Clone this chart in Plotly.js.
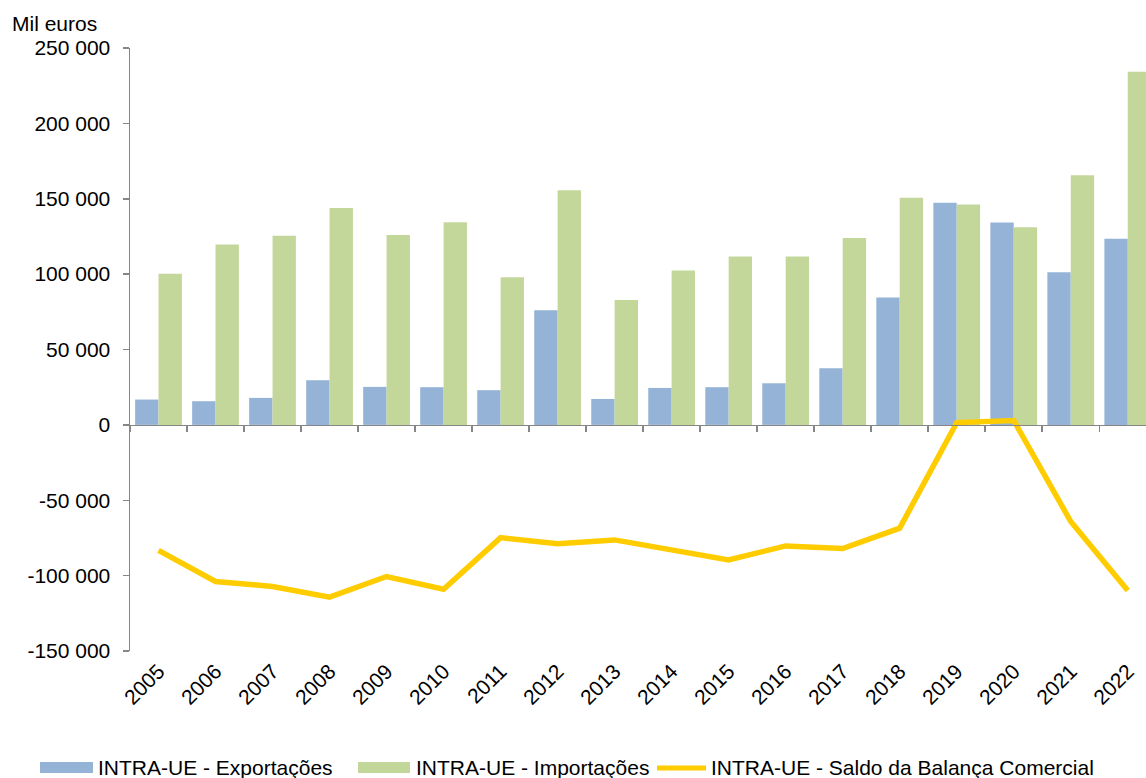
<!DOCTYPE html>
<html>
<head>
<meta charset="utf-8">
<script src="https://cdn.plot.ly/plotly-3.0.1.min.js"></script>
<style>html,body{margin:0;padding:0;background:#fff;}</style>
</head>
<body>
<div id="chart" style="width:1146px;height:778px;"></div>
<script>
const years = ["2005","2006","2007","2008","2009","2010","2011","2012","2013","2014","2015","2016","2017","2018","2019","2020","2021","2022"];
const exportacoes = [16800,15700,17900,29600,25200,25000,23000,76100,17200,24500,25000,27600,37600,84500,147300,134200,101300,123400];
const importacoes = [100200,119600,125400,143900,126000,134400,98000,155700,82900,102400,111700,111700,124000,150600,146200,131100,165600,234200];
const saldo = [-83300,-103900,-107200,-114300,-100600,-109000,-74800,-78900,-76300,-82900,-89600,-80300,-82000,-68500,1500,2900,-64100,-109900];
const seriesNames = ["INTRA-UE - Exportações","INTRA-UE - Importações","INTRA-UE - Saldo da Balança Comercial"];
const yTickVals = [-150000,-100000,-50000,0,50000,100000,150000,200000,250000];
const yTickText = ["-150 000","-100 000","-50 000","0","50 000","100 000","150 000","200 000","250 000"];
const yTitle = "Mil euros";

const font = "Liberation Sans, Arial, sans-serif";
const fs = 21;
const axisColor = "#868686";
const colors = ["#95B3D7","#C4D79B","#FFCC00"];

const traces = [
  {type:"bar", name:seriesNames[0], x:years, y:exportacoes, xaxis:"x", yaxis:"y",
   marker:{color:colors[0]}},
  {type:"bar", name:seriesNames[1], x:years, y:importacoes, xaxis:"x", yaxis:"y",
   marker:{color:colors[1]}},
  {type:"scatter", mode:"lines", name:seriesNames[2], x:years, y:saldo, xaxis:"x2", yaxis:"y",
   line:{color:colors[2], width:5.5}}
];

// custom legend (wide swatches like the original)
const pxX = p => (p - 130) / 1016;
const pxY = p => (651 - p) / 603;
const legY = pxY(768);
const shapes = [
  {type:"rect", xref:"paper", yref:"paper", x0:pxX(40), x1:pxX(93), y0:pxY(773), y1:pxY(762),
   fillcolor:colors[0], line:{width:0}},
  {type:"rect", xref:"paper", yref:"paper", x0:pxX(358), x1:pxX(410), y0:pxY(773), y1:pxY(762),
   fillcolor:colors[1], line:{width:0}},
  {type:"line", xref:"paper", yref:"paper", x0:pxX(657), x1:pxX(706), y0:legY, y1:legY,
   line:{color:colors[2], width:5}}
];
const legX = [pxX(96), pxX(414), pxX(709)];
const annotations = [
  {text:yTitle, xref:"paper", yref:"paper", x:pxX(10), y:pxY(24),
   xanchor:"left", yanchor:"middle", showarrow:false,
   font:{family:font, size:fs, color:"#000"}}
].concat(seriesNames.map((n,i)=>({
   text:n, xref:"paper", yref:"paper", x:legX[i], y:legY,
   xanchor:"left", yanchor:"middle", showarrow:false,
   font:{family:font, size:fs, color:"#000"}})));

const xr = [-0.5, 17.32];
const layout = {
  width:1146, height:778,
  margin:{l:130, r:0, t:48, b:127, autoexpand:false},
  paper_bgcolor:"#fff", plot_bgcolor:"#fff",
  font:{family:font, size:fs, color:"#000"},
  barmode:"group", bargap:0.18, bargroupgap:0,
  showlegend:false,
  xaxis:{type:"category", range:xr, domain:[0,1], anchor:"y", automargin:false,
         showline:false, ticks:"", showgrid:false, zeroline:false,
         tickangle:-45, ticklabelstandoff:3, tickfont:{family:font, size:fs, color:"#000"}},
  xaxis2:{type:"category", range:xr, overlaying:"x", anchor:"free", position:0.375, automargin:false,
          showline:true, linecolor:axisColor, linewidth:1.5,
          ticks:"outside", ticklen:6, tickwidth:1.5, tickcolor:axisColor, tickson:"boundaries",
          showticklabels:false, showgrid:false, zeroline:false},
  yaxis:{range:[-150000,250000], tickmode:"array", tickvals:yTickVals, ticktext:yTickText,
         automargin:false,
         showline:true, linecolor:axisColor, linewidth:1.5,
         ticks:"outside", ticklen:6, tickwidth:1.5, tickcolor:axisColor,
         ticklabelstandoff:8,
         showgrid:false, zeroline:false,
         tickfont:{family:font, size:fs, color:"#000"}},
  shapes:shapes,
  annotations:annotations
};

Plotly.newPlot("chart", traces, layout, {displayModeBar:false, staticPlot:true});
</script>
</body>
</html>
